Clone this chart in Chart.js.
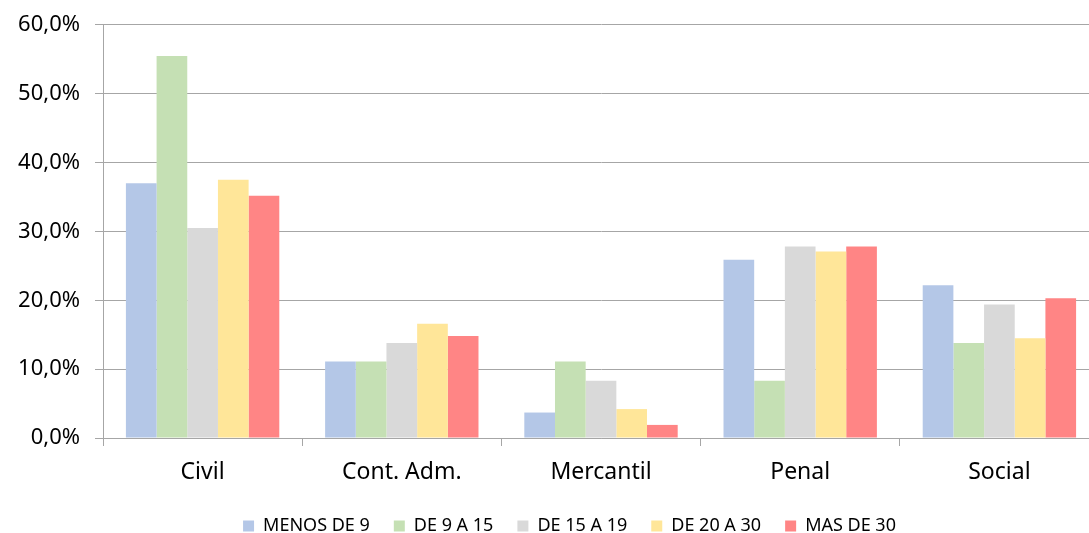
<!DOCTYPE html>
<html>
<head>
<meta charset="utf-8">
<script src="https://cdn.jsdelivr.net/npm/chart.js@4/dist/chart.umd.min.js"></script>
<style>
  html, body { margin: 0; padding: 0; background: #fff; overflow: hidden; }
  #wrap { width: 1101px; height: 533px; }
</style>
</head>
<body>
<div id="wrap"><canvas id="materiasChart"></canvas></div>
<script>
// categorias y series (porcentaje)
var categories = ['Civil', 'Cont. Adm.', 'Mercantil', 'Penal', 'Social'];
var menosDe9 = [37.0, 11.1, 3.7, 25.9, 22.2];
var de9a15 = [55.5, 11.1, 11.1, 8.3, 13.8];
var de15a19 = [30.5, 13.8, 8.3, 27.8, 19.4];
var de20a30 = [37.5, 16.6, 4.2, 27.1, 14.5];
var masDe30 = [35.2, 14.8, 1.9, 27.8, 20.3];
var yTicks = [0, 10, 20, 30, 40, 50, 60];

var seriesNames = ['MENOS DE 9', 'DE 9 A 15', 'DE 15 A 19', 'DE 20 A 30', 'MAS DE 30'];
var seriesData = [menosDe9, de9a15, de15a19, de20a30, masDe30];
var colors = ['#b4c7e7', '#c5e0b4', '#d9d9d9', '#ffe699', '#ff8585'];

// desplaza la leyenda un poco a la derecha, como en el original
var legendShift = {
    id: 'legendShift',
    afterLayout: function (chart) {
        if (chart.legend) {
            chart.legend.left += 20;
            chart.legend.right += 20;
        }
    }
};

document.addEventListener('DOMContentLoaded', function () {
    var ctx = document.getElementById('materiasChart').getContext('2d');
    var datasets = seriesNames.map(function (name, i) {
        return {
            label: name,
            data: seriesData[i],
            backgroundColor: colors[i],
            borderWidth: 0,
            barPercentage: 1.0,
            categoryPercentage: 0.77
        };
    });

    var chart = new Chart(ctx, {
        type: 'bar',
        data: { labels: categories, datasets: datasets },
        plugins: [legendShift],
        options: {
            responsive: true,
            maintainAspectRatio: false,
            animation: false,
            layout: { padding: { left: 0, right: 2, top: 19, bottom: -12 } },
            plugins: {
                legend: {
                    position: 'bottom',
                    labels: {
                        boxWidth: 11,
                        boxHeight: 11,
                        padding: 24,
                        color: '#000',
                        font: { family: 'Noto Sans', size: 18 }
                    }
                },
                tooltip: { enabled: false }
            },
            scales: {
                x: {
                    afterFit: function (scale) { scale.height = 55; },
                    grid: {
                        offset: true,
                        drawOnChartArea: false,
                        drawTicks: true,
                        tickLength: 8,
                        color: '#a6a6a6'
                    },
                    border: { color: '#a6a6a6', width: 1 },
                    ticks: {
                        color: '#000',
                        padding: 13,
                        font: { family: 'Noto Sans', size: 23 }
                    }
                },
                y: {
                    min: 0,
                    max: 60,
                    afterFit: function (scale) { scale.width = 103; },
                    afterBuildTicks: function (scale) {
                        scale.ticks = yTicks.map(function (v) { return { value: v }; });
                    },
                    grid: {
                        color: '#a6a6a6',
                        tickLength: 8
                    },
                    border: { color: '#a6a6a6', width: 1 },
                    ticks: {
                        color: '#000',
                        padding: 15,
                        font: { family: 'Noto Sans', size: 22, lineHeight: 0.9 },
                        callback: function (v) {
                            return v.toFixed(1).replace('.', ',') + '%';
                        }
                    }
                }
            }
        }
    });
});
</script>
</body>
</html>
